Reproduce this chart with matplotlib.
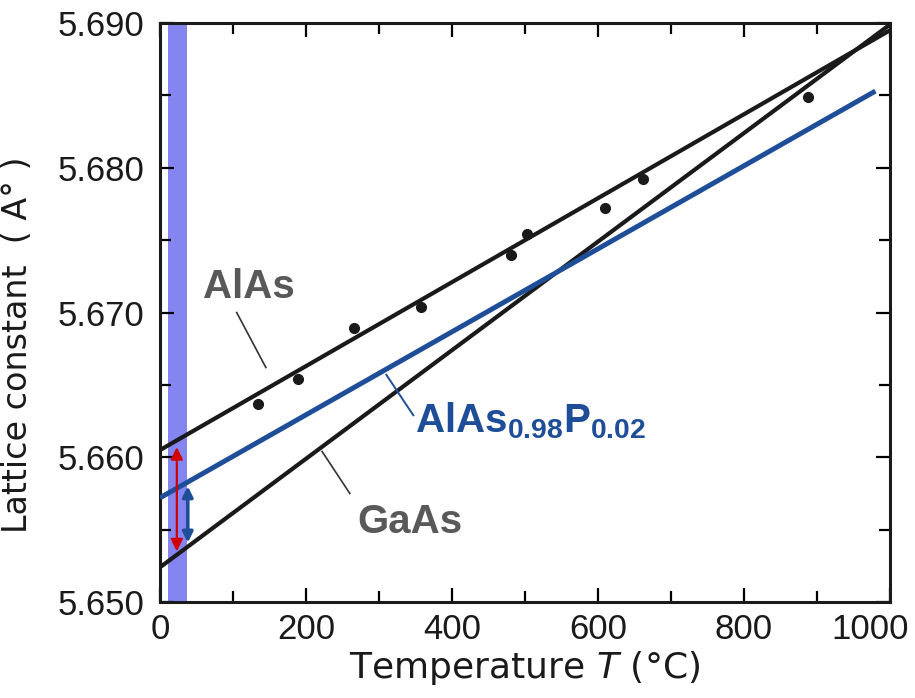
import numpy as np
import matplotlib
matplotlib.use("Agg")
import matplotlib.pyplot as plt
from matplotlib.ticker import MultipleLocator, FormatStrFormatter
from matplotlib.transforms import ScaledTranslation

# measured AlAs points (T in degC, lattice constant in A)
T_pts = [134, 189, 266, 358, 481, 503, 610, 662, 888]
a_pts = [5.6637, 5.6654, 5.6689, 5.6704, 5.6740, 5.6754, 5.6772, 5.6792, 5.6849]

# fitted lines
alas_T = [0, 1000]
alas_a = [5.6605, 5.6895]
gaas_T = [0, 1000]
gaas_a = [5.6524, 5.6899]
alasp_T = [0, 980]
alasp_a = [5.6572, 5.6853]

# growth temperature band and mismatch arrows
band_T = [11, 37]
red_arrow = (23, 5.6607, 5.6535)
blue_arrow = (38, 5.6580, 5.6541)

grey = "#595959"
blue = "#1F4E99"
ink = "#1a1a1a"

plt.rcParams["mathtext.fontset"] = "custom"
plt.rcParams["mathtext.bf"] = "Liberation Sans:bold"
plt.rcParams["mathtext.rm"] = "Liberation Sans:bold"

fig = plt.figure(figsize=(9.15, 6.98), dpi=100)
ax = fig.add_axes([0.1749, 0.1375, 0.7978, 0.8295])

ax.axvspan(band_T[0], band_T[1], color="#8585F2", lw=0, zorder=0)

ax.plot(alas_T, alas_a, color=ink, lw=3.0, solid_capstyle="butt", zorder=2)
ax.plot(gaas_T, gaas_a, color=ink, lw=3.0, solid_capstyle="butt", zorder=2)
ax.plot(T_pts, a_pts, "o", color=ink, ms=7, zorder=3)
ax.plot(alasp_T, alasp_a, color=blue, lw=3.6, solid_capstyle="butt", zorder=4)

# arrows
ax.annotate("", xy=(red_arrow[0], red_arrow[1]), xytext=(red_arrow[0], red_arrow[2]),
            arrowprops=dict(arrowstyle="<|-|>", color="#D00000", lw=1.6,
                            mutation_scale=18, shrinkA=0, shrinkB=0), zorder=5)
ax.annotate("", xy=(blue_arrow[0], blue_arrow[1]), xytext=(blue_arrow[0], blue_arrow[2]),
            arrowprops=dict(arrowstyle="<|-|>", color=blue, lw=2.6,
                            mutation_scale=15, shrinkA=0, shrinkB=0), zorder=5)

# labels with leader lines
ax.plot([105, 145], [5.6700, 5.6662], color="#333333", lw=1.2)
ax.text(59, 5.6710, "AlAs", color=grey, fontsize=29, fontweight="bold",
        family="Liberation Sans", va="baseline", ha="left")

ax.plot([310, 347], [5.6657, 5.6629], color=blue, lw=1.4)
ax.text(349, 5.6617, r"$\mathbf{AlAs_{0.98}P_{0.02}}$", color=blue, fontsize=29,
        va="baseline", ha="left")

ax.plot([222, 260], [5.6604, 5.6575], color="#333333", lw=1.2)
ax.text(270, 5.6548, "GaAs", color=grey, fontsize=29, fontweight="bold",
        family="Liberation Sans", va="baseline", ha="left")

ax.set_xlim(0, 1000)
ax.set_ylim(5.650, 5.690)
ax.xaxis.set_major_locator(MultipleLocator(200))
ax.xaxis.set_minor_locator(MultipleLocator(100))
ax.yaxis.set_major_locator(MultipleLocator(0.010))
ax.yaxis.set_minor_locator(MultipleLocator(0.005))
ax.yaxis.set_major_formatter(FormatStrFormatter("%.3f"))
ax.tick_params(which="both", direction="in", top=True, right=True, width=1.6)
ax.tick_params(which="major", length=10)
ax.tick_params(which="minor", length=8)
ax.tick_params(axis="y", which="major", pad=11)
ax.tick_params(axis="x", which="major", pad=8)
ax.tick_params(labelsize=25, labelcolor=ink)
for s in ax.spines.values():
    s.set_linewidth(2.2)
    s.set_color(ink)

ax.set_xlabel(r"Temperature $\mathit{T}$ (°C)", fontsize=26, family="DejaVu Sans",
              color=ink, labelpad=2)
ax.set_ylabel("Lattice constant  ( A° )", fontsize=24, family="DejaVu Sans",
              color=ink)
ax.yaxis.set_label_coords(-0.172, 0.444)

fig.canvas.draw()
for lab in ax.get_xticklabels() + ax.get_yticklabels():
    lab.set_family("Liberation Sans")
# "1000" sits a bit left of its tick, as in the original
for lab in ax.get_xticklabels():
    if lab.get_text() == "1000":
        lab.set_transform(lab.get_transform() + ScaledTranslation(-0.20, 0, fig.dpi_scale_trans))

fig.savefig("out.png", dpi=100)
